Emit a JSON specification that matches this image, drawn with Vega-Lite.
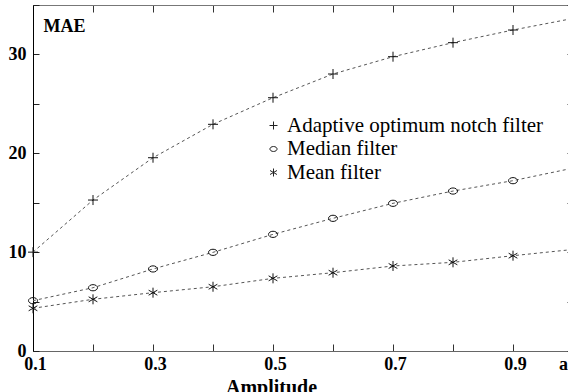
{
  "$schema": "https://vega.github.io/schema/vega-lite/v6.json",
  "width": 540,
  "height": 346,
  "autosize": {"type": "none"},
  "padding": {"left": 33, "top": 5, "right": 0, "bottom": 41},
  "background": "white",
  "config": {"view": {"stroke": null}, "font": "Times New Roman, Liberation Serif, Tinos, DejaVu Serif, serif"},
  "data": {"values": [
    {"a": 0.1, "mae": 10.0, "filter": "Adaptive optimum notch filter"},
    {"a": 0.2, "mae": 15.27, "filter": "Adaptive optimum notch filter"},
    {"a": 0.3, "mae": 19.55, "filter": "Adaptive optimum notch filter"},
    {"a": 0.4, "mae": 22.93, "filter": "Adaptive optimum notch filter"},
    {"a": 0.5, "mae": 25.62, "filter": "Adaptive optimum notch filter"},
    {"a": 0.6, "mae": 28.02, "filter": "Adaptive optimum notch filter"},
    {"a": 0.7, "mae": 29.77, "filter": "Adaptive optimum notch filter"},
    {"a": 0.8, "mae": 31.19, "filter": "Adaptive optimum notch filter"},
    {"a": 0.9, "mae": 32.47, "filter": "Adaptive optimum notch filter"},
    {"a": 1.0, "mae": 33.64, "filter": "Adaptive optimum notch filter"},
    {"a": 0.1, "mae": 5.09, "filter": "Median filter"},
    {"a": 0.2, "mae": 6.4, "filter": "Median filter"},
    {"a": 0.3, "mae": 8.3, "filter": "Median filter"},
    {"a": 0.4, "mae": 9.98, "filter": "Median filter"},
    {"a": 0.5, "mae": 11.8, "filter": "Median filter"},
    {"a": 0.6, "mae": 13.42, "filter": "Median filter"},
    {"a": 0.7, "mae": 14.94, "filter": "Median filter"},
    {"a": 0.8, "mae": 16.18, "filter": "Median filter"},
    {"a": 0.9, "mae": 17.23, "filter": "Median filter"},
    {"a": 1.0, "mae": 18.5, "filter": "Median filter"},
    {"a": 0.1, "mae": 4.32, "filter": "Mean filter"},
    {"a": 0.2, "mae": 5.23, "filter": "Mean filter"},
    {"a": 0.3, "mae": 5.9, "filter": "Mean filter"},
    {"a": 0.4, "mae": 6.5, "filter": "Mean filter"},
    {"a": 0.5, "mae": 7.35, "filter": "Mean filter"},
    {"a": 0.6, "mae": 7.92, "filter": "Mean filter"},
    {"a": 0.7, "mae": 8.6, "filter": "Mean filter"},
    {"a": 0.8, "mae": 8.97, "filter": "Mean filter"},
    {"a": 0.9, "mae": 9.64, "filter": "Mean filter"},
    {"a": 1.0, "mae": 10.27, "filter": "Mean filter"}
  ]},
  "layer": [
    {
      "encoding": {
        "x": {
          "field": "a", "type": "quantitative",
          "scale": {"domain": [0.1, 1.0], "nice": false, "zero": false},
          "axis": {
            "orient": "bottom",
            "values": [0.1, 0.2, 0.3, 0.4, 0.5, 0.6, 0.7, 0.8, 0.9, 1.0],
            "labelExpr": "round(datum.value*10) % 2 == 1 ? format(datum.value, '.1f') : (round(datum.value*10) == 10 ? 'a' : '')",
            "labelFlush": false,
            "labelOverlap": false,
            "labelFont": "Times New Roman, Liberation Serif, Tinos, DejaVu Serif, serif",
            "labelFontWeight": "bold",
            "labelFontSize": 18,
            "labelColor": "black",
            "labelPadding": 11,
            "labelOffset": {"condition": {"test": "datum.value > 0.95", "value": -10}, "value": 2},
            "tickSize": -7,
            "tickColor": "#333",
            "domainColor": "#666",
            "grid": false,
            "title": "Amplitude",
            "titleFont": "Times New Roman, Liberation Serif, Tinos, DejaVu Serif, serif",
            "titleFontWeight": "bold",
            "titleFontSize": 20,
            "titleColor": "black",
            "titleAnchor": "start",
            "titleAlign": "center",
            "titleX": 238,
            "titleY": 42,
            "titleBaseline": "alphabetic"
          }
        },
        "y": {
          "field": "mae", "type": "quantitative",
          "scale": {"domain": [0, 35], "nice": false},
          "axis": {
            "orient": "left",
            "values": [0, 5, 10, 15, 20, 25, 30, 35],
            "labelExpr": "datum.value % 10 == 0 ? datum.value : ''",
            "labelFont": "Times New Roman, Liberation Serif, Tinos, DejaVu Serif, serif",
            "labelFontWeight": "bold",
            "labelFontSize": 18,
            "labelColor": "black",
            "labelPadding": 13,
            "labelFlush": false,
            "labelOverlap": false,
            "tickSize": -6,
            "tickColor": "#222",
            "domainColor": "black",
            "grid": false,
            "title": "MAE",
            "titleAngle": 0,
            "titleFont": "Times New Roman, Liberation Serif, Tinos, DejaVu Serif, serif",
            "titleFontWeight": "bold",
            "titleFontSize": 18,
            "titleColor": "black",
            "titleAlign": "left",
            "titleBaseline": "alphabetic",
            "titleX": 10,
            "titleY": 26
          }
        }
      },
      "layer": [
        {
          "mark": {"type": "line", "strokeDash": [3, 3], "strokeWidth": 1, "color": "#555"},
          "encoding": {"detail": {"field": "filter"}}
        },
        {
          "mark": {"type": "point", "filled": false, "color": "#111", "strokeWidth": 1, "size": 100, "opacity": 1},
          "encoding": {
            "shape": {
              "field": "filter", "type": "nominal",
              "scale": {
                "domain": ["Adaptive optimum notch filter", "Median filter", "Mean filter"],
                "range": ["M-1,0H1M0,-1V1", "M-0.9,0A0.9,0.62 0 1,0 0.9,0A0.9,0.62 0 1,0 -0.9,0Z", "M0,-1V1M-0.87,-0.5L0.87,0.5M-0.87,0.5L0.87,-0.5"]
              },
              "legend": {
                "orient": "none",
                "legendX": 230,
                "legendY": 110,
                "title": null,
                "labelFont": "Times New Roman, Liberation Serif, Tinos, DejaVu Serif, serif",
                "labelFontSize": 21,
                "labelColor": "black",
                "labelLimit": 0,
                "labelOffset": 3,
                "rowPadding": 1.5,
                "symbolSize": 64,
                "symbolStrokeColor": "#222",
                "symbolStrokeWidth": 1,
                "symbolFillColor": "transparent"
              }
            }
          }
        }
      ]
    },
    {
      "mark": {"type": "point", "opacity": 0},
      "encoding": {
        "x": {
          "field": "a", "type": "quantitative",
          "axis": {"orient": "top", "values": [0.1, 0.2, 0.3, 0.4, 0.5, 0.6, 0.7, 0.8, 0.9, 1.0], "labels": false, "tickSize": -7, "tickColor": "#333", "domainColor": "#777", "grid": false, "title": null}
        },
        "y": {
          "field": "mae", "type": "quantitative",
          "axis": {"orient": "right", "values": [0, 5, 10, 15, 20, 25, 30, 35], "labels": false, "tickSize": -6, "tickColor": "#333", "domainColor": "#777", "grid": false, "title": null}
        }
      }
    }
  ],
  "resolve": {"axis": {"x": "independent", "y": "independent"}}
}
